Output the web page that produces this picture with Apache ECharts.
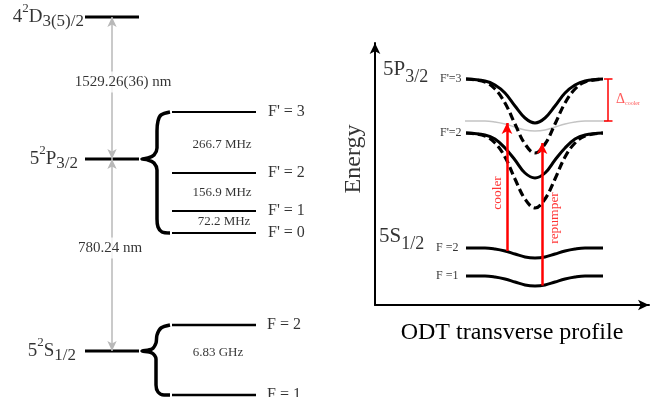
<!DOCTYPE html>
<html>
<head>
<meta charset="utf-8">
<script src="https://cdn.jsdelivr.net/npm/echarts@6/dist/echarts.min.js"></script>
<style>html,body{margin:0;padding:0;background:#fff}#main{width:654px;height:397px}</style>
</head>
<body>
<div id="main"></div>
<script>
// left panel: Rb-87 level scheme (schematic height units, not to scale)
var levelLabels = ['{a|4}{p|2}{a|D}{b|3(5)/2}', '{a|5}{p|2}{a|P}{b|3/2}', '{a|5}{p|2}{a|S}{b|1/2}'];
var levelY = [38.0, 23.8, 4.6];
var levelLabelX = [8.4, 7.8, 7.6];
var levelX = [8.5, 13.9];
var excitedF = ["F' = 3", "F' = 2", "F' = 1", "F' = 0"];
var excitedFY = [28.5, 22.4, 18.6, 16.4];
var groundF = ['F = 2', 'F = 1'];
var groundFY = [7.2, 0.2];
var hfX = [17.2, 25.6];
var splitLabels = ['266.7 MHz', '156.9 MHz', '72.2 MHz', '6.83 GHz'];
var splitX = [22.2, 22.2, 22.4, 21.8];
var splitY = [25.2, 20.4, 17.5, 4.4];
var waveLabels = ['1529.26(36) nm', '780.24 nm'];
var waveX = [12.3, 11.0];
var waveY = [31.5, 14.9];
var arrowX = 11.2;
var braceP = [[17.0,28.5],[16.1,28.2],[15.8,27.6],[15.7,26.6],[15.7,24.9],[15.4,24.2],[14.8,23.9],[14.2,23.8],[14.8,23.7],[15.4,23.4],[15.7,22.7],[15.7,17.8],[15.8,17.0],[16.2,16.5],[17.0,16.4]];
var braceS = [[17.0,7.2],[16.1,6.9],[15.7,6.2],[15.6,5.4],[15.2,4.8],[14.2,4.6],[15.2,4.4],[15.6,3.8],[15.6,1.2],[15.8,0.5],[16.4,0.2],[17.0,0.2]];

// right panel: light-shifted levels across the ODT profile
var profileX = [9.1, 11, 12, 13, 14, 15, 16, 17, 18, 19, 20, 21, 22.8];
var p3Solid  = [22.6, 22.4, 22.0, 21.2, 19.9, 18.7, 18.2, 18.7, 19.9, 21.2, 22.0, 22.4, 22.6];
var p3Dashed = [22.6, 22.3, 21.6, 20.2, 18.1, 16.1, 15.2, 16.1, 18.1, 20.2, 21.6, 22.3, 22.6];
var p2Solid  = [17.2, 17.0, 16.6, 15.7, 14.5, 13.2, 12.7, 13.2, 14.5, 15.7, 16.6, 17.0, 17.2];
var p2Dashed = [17.2, 16.9, 16.2, 14.8, 12.6, 10.6, 9.7, 10.6, 12.6, 14.8, 16.2, 16.9, 17.2];
var s2 = [5.7, 5.7, 5.6, 5.4, 5.1, 4.8, 4.7, 4.8, 5.1, 5.4, 5.6, 5.7, 5.7];
var s1 = [2.9, 2.9, 2.8, 2.6, 2.3, 2.0, 1.9, 2.0, 2.3, 2.6, 2.8, 2.9, 2.9];
var coolerX = [9.0, 11, 12, 13, 14, 15, 16, 17, 18, 19, 20, 21, 23.3];
var coolerLevel = [18.4, 18.4, 18.3, 18.1, 17.8, 17.5, 17.4, 17.5, 17.8, 18.1, 18.3, 18.4, 18.4];
var coolerArrow = [13.2, 5.4, 18.2];
var repumpArrow = [16.7, 1.95, 16.2];
var deltaBar = [[22.9,22.6],[23.75,22.6],[23.3,22.6],[23.3,18.4],[22.9,18.4],[23.75,18.4]];

var serif = '"Liberation Serif", "DejaVu Serif", serif';
var chart = echarts.init(document.getElementById('main'));

function seg(x, y) { return [[x[0], y], [x[1], y]]; }
function zip(xs, ys) { return xs.map(function (x, i) { return [x, ys[i]]; }); }
function flat(data, width, g) {
  return {type: 'line', xAxisIndex: g, yAxisIndex: g, data: data, symbol: 'none', silent: true,
          lineStyle: {color: '#000', width: width}};
}
function curve(data, dashed) {
  return {type: 'line', xAxisIndex: 1, yAxisIndex: 1, data: data, symbol: 'none', silent: true,
          smooth: 0.4, lineStyle: {color: '#000', width: dashed ? 3.2 : 3, type: dashed ? [8, 4] : 'solid'}};
}

var series = [];
levelY.forEach(function (y) { series.push(flat(seg(levelX, y), 3, 0)); });
excitedFY.forEach(function (y) { series.push(flat(seg(hfX, y), 2, 0)); });
groundFY.forEach(function (y) { series.push(flat(seg(hfX, y), 2.5, 0)); });
[braceP, braceS].forEach(function (b) {
  var s = flat(b, 3.5, 0); s.smooth = 0.3; series.push(s);
});

var richL = {
  a: {fontFamily: serif, fontSize: 19, color: '#000'},
  p: {fontFamily: serif, fontSize: 13, color: '#000', padding: [0, 0, 16, 0]},
  b: {fontFamily: serif, fontSize: 17, color: '#000', padding: [10, 0, 0, 0]}
};
var leftText = [];
levelLabels.forEach(function (t, i) {
  leftText.push({value: [levelLabelX[i], levelY[i]], label: {formatter: t, position: 'left', distance: 0, rich: richL}});
});
excitedF.forEach(function (t, i) {
  leftText.push({value: [26.8, excitedFY[i]], label: {formatter: t, position: 'right', distance: 0, fontSize: 16}});
});
groundF.forEach(function (t, i) {
  leftText.push({value: [26.7, groundFY[i]], label: {formatter: t, position: 'right', distance: 0, fontSize: 16}});
});
splitLabels.forEach(function (t, i) {
  leftText.push({value: [splitX[i], splitY[i]], label: {formatter: t, position: 'inside', fontSize: 13}});
});
waveLabels.forEach(function (t, i) {
  leftText.push({value: [waveX[i], waveY[i]], label: {formatter: t, position: 'inside', fontSize: 15,
    backgroundColor: '#fff', padding: [3, 0]}});
});

series.push({
  type: 'scatter', xAxisIndex: 0, yAxisIndex: 0, symbolSize: 0, silent: true, z: 5,
  label: {show: true, fontFamily: serif, color: '#000'},
  data: leftText,
  markLine: {
    silent: true, symbol: ['arrow', 'arrow'], symbolSize: [7, 10], label: {show: false},
    lineStyle: {color: '#b8b8b8', width: 1.5, type: 'solid'},
    data: [
      [{coord: [arrowX, levelY[1]]}, {coord: [arrowX, levelY[0]]}],
      [{coord: [arrowX, levelY[1]]}, {coord: [arrowX, levelY[2]]}]
    ]
  }
});

// right panel curves
series.push({type: 'line', xAxisIndex: 1, yAxisIndex: 1, data: zip(coolerX, coolerLevel), symbol: 'none',
  silent: true, smooth: 0.4, lineStyle: {color: '#c4c4c4', width: 1.5}});
series.push(curve(zip(profileX, p3Solid), false));
series.push(curve(zip(profileX, p3Dashed), true));
series.push(curve(zip(profileX, p2Solid), false));
series.push(curve(zip(profileX, p2Dashed), true));
series.push(curve(zip(profileX, s2), false));
series.push(curve(zip(profileX, s1), false));
series.push({type: 'line', xAxisIndex: 1, yAxisIndex: 1, data: deltaBar, symbol: 'none', silent: true,
  lineStyle: {color: '#ff0000', width: 1.5}});

var richR = {
  a: {fontFamily: serif, fontSize: 21, color: '#000'},
  b: {fontFamily: serif, fontSize: 18, color: '#000', padding: [16, 0, 0, 0]},
  d: {fontFamily: serif, fontSize: 14, color: '#ff3030'},
  c: {fontFamily: serif, fontSize: 6, color: '#ff3030', padding: [8, 0, 0, 0]}
};
var rightText = [
  {value: [0.8, 23.6], label: {formatter: '{a|5P}{b|3/2}', position: 'right', distance: 0, rich: richR}},
  {value: [0.4, 6.9], label: {formatter: '{a|5S}{b|1/2}', position: 'right', distance: 0, rich: richR}},
  {value: [6.5, p3Solid[0]], label: {formatter: "F'=3", position: 'right', distance: 0, fontSize: 12}},
  {value: [6.5, p2Solid[0]], label: {formatter: "F'=2", position: 'right', distance: 0, fontSize: 12}},
  {value: [6.1, s2[0]], label: {formatter: 'F =2', position: 'right', distance: 0, fontSize: 12}},
  {value: [6.1, s1[0]], label: {formatter: 'F =1', position: 'right', distance: 0, fontSize: 12}},
  {value: [24.1, 20.6], label: {formatter: '{d|Δ}{c|cooler}', position: 'right', distance: 0, rich: richR}},
  {value: [12.2, 11.2], label: {formatter: 'cooler', position: 'inside', rotate: 90, fontSize: 13.5, color: '#ff0000'}},
  {value: [17.9, 8.7], label: {formatter: 'repumper', position: 'inside', rotate: 90, fontSize: 13.5, color: '#ff0000'}},
  {value: [-2.1, 14.6], label: {formatter: 'Energy', position: 'inside', rotate: 90, fontSize: 24, color: '#000'}}
];
series.push({
  type: 'scatter', xAxisIndex: 1, yAxisIndex: 1, symbolSize: 0, silent: true, clip: false, z: 5,
  label: {show: true, fontFamily: serif, color: '#000'},
  data: rightText,
  markLine: {
    silent: true, symbol: ['none', 'arrow'], symbolSize: [8, 11], label: {show: false},
    lineStyle: {color: '#ff0000', width: 2.5, type: 'solid'},
    data: [
      [{coord: [coolerArrow[0], coolerArrow[1]]}, {coord: [coolerArrow[0], coolerArrow[2]]}],
      [{coord: [repumpArrow[0], repumpArrow[1]]}, {coord: [repumpArrow[0], repumpArrow[2]]}]
    ]
  }
});

var option = {
  backgroundColor: '#fff',
  animation: false,
  grid: [
    {left: 0, top: 0, width: 330, height: 397},
    {left: 375, top: 43, width: 274, height: 262}
  ],
  xAxis: [
    {gridIndex: 0, type: 'value', min: 0, max: 33, show: false},
    {gridIndex: 1, type: 'value', min: 0, max: 27.4,
     axisLine: {show: true, symbol: ['none', 'arrow'], symbolSize: [8, 11], lineStyle: {color: '#000', width: 2}},
     axisTick: {show: false}, axisLabel: {show: false}, splitLine: {show: false},
     name: 'ODT transverse profile', nameLocation: 'middle', nameGap: 16,
     nameTextStyle: {fontFamily: serif, fontSize: 24, color: '#000'}}
  ],
  yAxis: [
    {gridIndex: 0, type: 'value', min: 0, max: 39.7, show: false},
    {gridIndex: 1, type: 'value', min: 0, max: 26.2,
     axisLine: {show: true, symbol: ['none', 'arrow'], symbolSize: [8, 11], lineStyle: {color: '#000', width: 2}},
     axisTick: {show: false}, axisLabel: {show: false}, splitLine: {show: false}}
  ],
  series: series
};

chart.setOption(option);
</script>
</body>
</html>
